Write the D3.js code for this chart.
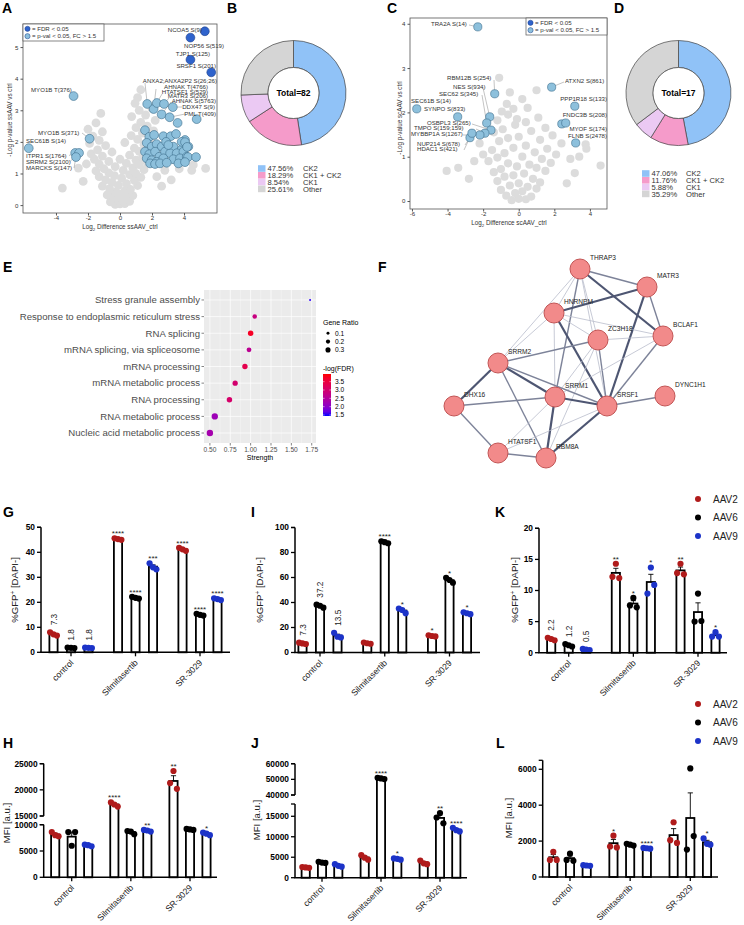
<!DOCTYPE html>
<html><head><meta charset="utf-8">
<script src="https://cdn.jsdelivr.net/npm/d3@7"></script>
<style>body{margin:0;background:#fff}svg{display:block}text{font-family:Arial,"Liberation Sans",sans-serif}</style>
</head><body><svg id="c" width="744" height="925"></svg>
<script>
// ================= DATA =================
// Panel A volcano (ssAAV vs ctrl): [log2 diff, -log p]
const aGrey=[[-0.3,0.02],[0,0.04],[0.3,0.05],[-0.6,0.1],[0.6,0.12],[-0.1,0.15],[0.15,0.2],[0.45,0.25],[-0.45,0.28],[0.8,0.3],[-0.8,0.32],[0.05,0.35],[-0.25,0.42],[0.3,0.45],[0.65,0.5],[-0.65,0.52],
[-1.1,0.6],[1.1,0.62],[-0.1,0.62],[0.4,0.68],[-0.5,0.72],[0.9,0.78],[-0.9,0.8],[0.1,0.85],[1.3,0.88],[-1.3,0.9],[-0.35,0.93],[0.6,0.96],[1.0,1.0],[-0.7,1.02],
[-1.5,1.08],[0.2,1.1],[1.5,1.12],[-1.0,1.15],[0.8,1.18],[-0.3,1.22],[1.2,1.28],[-1.3,1.3],[0.4,1.32],[1.7,1.35],[-0.7,1.38],[1.0,1.42],[-1.6,1.45],[0.0,1.45],[1.4,1.5],
[-1.1,1.55],[0.6,1.58],[-1.8,1.62],[1.8,1.65],[-0.5,1.68],[1.2,1.7],[-1.4,1.75],[0.9,1.8],[2.0,1.82],[-0.9,1.88],[1.5,1.92],[-1.9,1.95],[0.3,1.98],
[-1.3,2.05],[1.1,2.08],[1.9,2.1],[-1.7,2.18],[0.7,2.2],[1.4,2.28],[-1.1,2.32],[2.1,2.35],[-2.0,2.4],[1.0,2.45],[1.7,2.5],
[-1.5,2.6],[1.3,2.62],[2.2,2.68],[0.73,2.8],[1.6,2.85],[-1.2,2.9],[1.2,3.0],[2.0,3.05],[0.94,3.22],[1.1,3.4],[1.3,3.65],
[-3.6,0.54],[-2.6,1.17],[-2.3,0.75],[-2.1,1.3],[2.3,0.9],[2.8,1.1],[3.2,0.8],[4.58,1.27],[4.48,1.1],[5.35,1.16],[3.7,1.15],[2.6,0.6]];
const aSig=[[-2.9,3.45],[-1.9,2.1],[-5.7,1.8],[-2.8,1.65],[-2.56,1.65],[-2.75,1.52],
[1.7,3.2],[2.1,3.04],[2.3,3.23],[2.75,3.2],[2.6,2.87],[3.3,3.1],[3.1,2.78],[3.6,2.6],[4.79,2.72],
[1.56,2.37],[1.83,2.16],[2.13,2.22],[2.71,2.18],[3.17,2.18],[3.5,2.25],[4.06,2.06],[1.67,1.97],[1.98,1.85],[2.29,1.93],[2.6,1.85],[2.88,2.0],[3.33,1.85],[3.85,1.76],[4.27,1.85],[1.56,1.69],[1.83,1.61],[2.19,1.69],[2.46,1.53],[2.81,1.69],[3.13,1.64],[3.54,1.64],[3.96,1.69],[1.67,1.48],[1.98,1.42],[2.29,1.37],[2.71,1.48],[3.33,1.45],[3.75,1.48],[1.88,1.32],[2.19,1.3],[2.5,1.32],[2.92,1.34],[3.65,1.32],[4.17,1.53],[3.85,2.0],[3.02,1.9],[4.06,1.99],[4.19,1.84],[4.25,1.52],[4.75,1.52],[4.06,1.36]];
const aFdr=[[5.3,5.5],[4.4,5.3],[4.4,4.6],[5.7,4.2]];
const aLabelText=["NCOA5 S(9)","NOP56 S(519)","TJP1 S(125)","SRSF1 S(201)","ANXA2;ANXA2P2 S(26;26)","AHNAK T(4766)","HTATSF1 S(529)","MATR3 S(206)","AHNAK S(5763)","DDX47 S(9)","PML T(409)","MYO1B T(376)","MYO1B S(371)","SEC61B S(14)","ITPR1 S(1764)","SRRM2 S(2100)","MARCKS S(147)"];
const aLabelPoint=[aFdr[0],aFdr[1],aFdr[2],aFdr[3],aSig[6],aSig[7],aSig[8],aSig[9],aSig[10],aSig[11],aSig[12],aSig[0],aSig[1],aSig[2],aSig[3],aSig[4],aSig[5]];

// Panel C volcano (scAAV vs ctrl)
const cGrey=[[-0.4,0.02],[0,0.05],[0.4,0.04],[-0.7,0.12],[0.7,0.1],[-0.2,0.18],[0.2,0.22],[-1.0,0.25],[1.0,0.28],[0.5,0.32],[-0.5,0.35],[0,0.4],[-1.2,0.45],[1.2,0.42],[0.8,0.5],[-0.8,0.55],[-0.3,0.58],[0.3,0.62],
[-1.4,0.65],[1.5,0.68],[-1.0,0.72],[1.0,0.75],[-0.1,0.78],[0.6,0.82],[-0.6,0.85],[1.8,0.86],[-1.7,0.9],[1.3,0.95],[-1.2,0.98],[0.2,1.0],
[-2.0,1.05],[2.1,1.05],[-0.8,1.08],[0.9,1.1],[-1.5,1.15],[1.6,1.18],[-0.3,1.2],[0.4,1.25],[-2.2,1.3],[2.4,1.3],[-1.1,1.35],[1.2,1.38],[-0.6,1.42],[0.0,1.45],[1.9,1.48],
[-1.4,1.55],[0.7,1.58],[-0.9,1.62],[1.5,1.65],[-0.2,1.72],[0.4,1.78],[-1.2,1.82],[-0.1,1.85],[1.1,1.88],[-0.6,1.95],
[-0.95,2.02],[-0.3,2.08],[0.5,2.1],[-0.67,2.19],[0.2,2.3],[1.0,2.5],[-1.1,2.78],[-0.5,2.45],
[-4.05,0.68],[-3.4,0.75],[-2.8,0.5],[3.76,1.28],[3.8,1.18],[4.6,0.8],[3.15,0.63],[2.9,0.95],[3.4,1.0],[2.7,0.4],[-2.5,0.9]];
const cSig=[[-2.3,3.93],[-1.35,2.42],[-1.63,1.9],[-1.8,1.76],[-5.73,2.08],[-3.43,1.9],[-1.56,1.6],[-1.9,1.53],[-2.18,1.49],[-2.74,1.43],[-2.63,1.53],[1.85,2.57],[3.15,2.14],[2.42,1.74],[2.64,1.76],[3.2,1.31]];
const cFdr=[];
const cLabelText=["TRA2A S(14)","RBM12B S(254)","NES S(934)","SEC62 S(345)","SEC61B S(14)","SYNPO S(833)","OSBPL3 S(265)","TMPO S(159;159)","MYBBP1A S(1267)","NUP214 S(678)","HDAC1 S(421)","ATXN2 S(861)","PPP1R18 S(133)","FNDC3B S(208)","MYOF S(174)","FLNB S(2478)"];
const cLabelPoint=cSig.slice(0,16);

// Panels B, D donuts
const kinaseCats=["CK2","CK1 + CK2","CK1","Other"];
const kinaseColors=["#90c2f7","#f59bca","#ebc9f3","#d5d5d5"];
const bShares=[47.56,18.29,8.54,25.61];
const dShares=[47.06,11.76,5.88,35.29];
const bTotal=82, dTotal=17;

// Panel E GO enrichment
const goTerms=["Stress granule assembly","Response to endoplasmic reticulum stress","RNA splicing","mRNA splicing, via spliceosome","mRNA processing","mRNA metabolic process","RNA processing","RNA metabolic process","Nucleic acid metabolic process"];
const goStrength=[1.73,1.05,1.0,0.98,0.93,0.81,0.74,0.56,0.5];
const goRatio=[0.03,0.15,0.22,0.17,0.21,0.2,0.22,0.29,0.3];
const goLogFdr=[1.5,2.8,3.75,2.6,3.35,3.0,3.05,2.2,2.3];
const strengthTicks=[0.5,0.75,1.0,1.25,1.5,1.75];
const ratioLegend=[0.1,0.2,0.3];
const fdrLegend=[3.5,3.0,2.5,2.0,1.5];

// Panel F network (layout units)
const netNodes=["THRAP3","MATR3","HNRNPM","ZC3H18","BCLAF1","SRRM2","SRRM1","SRSF1","DYNC1H1","DHX16","HTATSF1","RBM8A"];
const netLayout=[[210,19],[277,37],[184,63],[228,90],[293,86],[128,113],[185,147],[237,156],[295,146],[84,156],[128,203],[176,208]];
const netEdges=[["THRAP3","MATR3",2],["THRAP3","HNRNPM",1],["THRAP3","SRRM2",1],["THRAP3","SRRM1",2],["THRAP3","ZC3H18",1],["THRAP3","BCLAF1",3],["THRAP3","SRSF1",1],
["MATR3","HNRNPM",3],["MATR3","BCLAF1",2],["MATR3","SRSF1",3],["HNRNPM","ZC3H18",1],["HNRNPM","BCLAF1",1],["HNRNPM","SRRM2",1],["HNRNPM","SRRM1",1],["HNRNPM","SRSF1",3],
["ZC3H18","BCLAF1",1],["ZC3H18","SRRM2",2],["ZC3H18","SRRM1",1],["ZC3H18","SRSF1",2],["ZC3H18","RBM8A",1],["BCLAF1","SRSF1",2],["BCLAF1","SRRM1",1],
["SRRM2","SRRM1",3],["SRRM2","SRSF1",2],["SRRM2","DHX16",3],["SRRM2","RBM8A",2],["SRRM1","DHX16",2],["SRRM1","SRSF1",3],["SRRM1","RBM8A",3],["SRRM1","HTATSF1",1],
["SRSF1","DYNC1H1",2],["SRSF1","RBM8A",3],["SRSF1","HTATSF1",1],["DHX16","HTATSF1",2],["HTATSF1","RBM8A",2]];

// Bar panels G-L: replicates [treatment][serotype][rep]
const barCats=["control","Silmitasertib","SR-3029"];
const serotypes=["AAV2","AAV6","AAV9"];
const serColors=["#b01b1b","#000000","#1c33c8"];
const gReps=[[[8.0,7.2,6.7],[1.9,1.8,1.7],[1.9,1.8,1.7]],[[45.6,45.3,45.0],[22.2,21.8,21.5],[35.6,34.0,33.2]],[[41.8,41.2,40.6],[15.4,15.0,14.7],[21.6,21.3,20.9]]];
const gAnnot=["7.3","1.8","1.8","****","****","***","****","****","****"];
const iReps=[[[7.9,7.3,6.8],[38.3,37.4,35.9],[15.8,12.6,12.1]],[[8.0,7.4,7.0],[89.0,88.3,87.4],[35.2,34.0,31.5]],[[13.8,13.2,12.9],[59.8,58.0,55.8],[32.2,31.4,30.7]]];
const iAnnot=["7.3","37.2","13.5","","****","*","*","*","*"];
const kReps=[[[2.4,2.2,2.0],[1.4,1.2,1.0],[0.6,0.5,0.4]],[[12.2,14.3,12.0],[7.6,8.8,7.3],[9.5,13.7,10.9]],[[12.8,14.3,12.6],[5.0,9.5,5.1],[2.6,3.3,2.6]]];
const kAnnot=["2.2","1.2","0.5","**","*","*","**","","*"];
const hReps=[[[8600,8000,7800],[8600,6000,8600],[6200,6100,5900]],[[17600,17200,16800],[8800,8700,8200],[9000,8900,8700]],[[21300,23600,20200],[9200,9100,9000],[8500,8300,8000]]];
const hAnnot=["","","","****","","**","**","","*"];
const jReps=[[[2600,2500,2400],[3900,3700,3600],[3300,2900,2700]],[[5500,4900,4400],[51000,50600,50200],[4700,4600,4400]],[[4200,3500,3300],[14700,15800,13300],[12200,11600,11300]]];
const jAnnot=["","","","","****","*","","**","****"];
const lReps=[[[950,1400,950],[950,1300,900],[660,640,620]],[[1700,2300,1650],[1850,1800,1750],[1620,1600,1580]],[[2050,3050,1900],[1530,6050,2280],[2150,1850,1800]]];
const lAnnot=["","","","*","","****","","","*"];

// ================= DRAWING =================
const svg=d3.select("#c");
svg.append("rect").attr("width",744).attr("height",925).attr("fill","#fff");

[["A",2,13],["B",227,13],["C",387,13],["D",614,13],["E",3,272],["F",378,272],["G",3,517],["I",251,517],["K",495,517],["H",3,748],["J",251,748],["L",496,748]]
.forEach(([t,x,y])=>svg.append("text").attr("x",x).attr("y",y).attr("font-size",14).attr("font-weight","bold").text(t));

function volcano(o){
  const g=svg.append("g");
  const [x0,y0,x1,y1]=o.box;
  const x=d3.scaleLinear().domain(o.xd).range([x0,x1]);
  const y=d3.scaleLinear().domain(o.yd).range([y1,y0]);
  g.append("g").selectAll("circle").data(o.grey).join("circle")
    .attr("cx",d=>x(d[0])).attr("cy",d=>y(d[1])).attr("r",o.r).attr("fill","#dcdcdc");
  o.labelText.forEach((t,i)=>{
    const L=o.place[i], p=o.labelPoint[i];
    if(L[3]) g.append("line").attr("x1",L[3][0]).attr("y1",L[3][1]).attr("x2",x(p[0])).attr("y2",y(p[1])).attr("stroke","#888").attr("stroke-width",0.5);
  });
  g.append("g").selectAll("circle").data(o.sig).join("circle")
    .attr("cx",d=>x(d[0])).attr("cy",d=>y(d[1])).attr("r",o.r).attr("fill","#8dc0dc").attr("stroke","#3d6d8c").attr("stroke-width",0.6);
  g.append("g").selectAll("circle").data(o.fdr).join("circle")
    .attr("cx",d=>x(d[0])).attr("cy",d=>y(d[1])).attr("r",o.r).attr("fill","#2f63cc").attr("stroke","#1d3f8a").attr("stroke-width",0.6);
  o.labelText.forEach((t,i)=>{
    const L=o.place[i];
    g.append("text").attr("x",L[0]).attr("y",L[1]).attr("text-anchor",L[2]).attr("font-size",6.1).attr("fill","#333").text(t);
  });
  g.append("rect").attr("x",x0).attr("y",y0).attr("width",x1-x0).attr("height",y1-y0).attr("fill","none").attr("stroke","#555").attr("stroke-width",0.8);
  const ya=g.append("g").attr("transform",`translate(${x0},0)`).call(d3.axisLeft(y).tickValues(o.yt).tickSize(2.5).tickPadding(2).tickFormat(d=>String(d)));
  const xa=g.append("g").attr("transform",`translate(0,${y1})`).call(d3.axisBottom(x).tickValues(o.xt).tickSize(2.5).tickPadding(0.5).tickFormat(d=>String(d)));
  [ya,xa].forEach(a=>{a.select(".domain").remove();a.selectAll("text").attr("font-size",6.1).attr("fill","#333").attr("font-family",null);a.selectAll("line").attr("stroke","#555");});
  const lg=o.legend;
  g.append("rect").attr("x",lg[0]).attr("y",lg[1]).attr("width",lg[2]).attr("height",17).attr("fill","#fff").attr("stroke","#555").attr("stroke-width",0.7);
  [["#2f63cc","= FDR < 0.05"],["#8dc0dc","= p-val < 0.05, FC > 1.5"]].forEach((e,i)=>{
    g.append("circle").attr("cx",lg[0]+4.5).attr("cy",lg[1]+4.8+i*7.4).attr("r",2.6).attr("fill",e[0]).attr("stroke","#1d3f8a").attr("stroke-width",0.5);
    g.append("text").attr("x",lg[0]+9).attr("y",lg[1]+7+i*7.4).attr("font-size",6.1).attr("fill","#333").text(e[1]);
  });
  const xt=g.append("text").attr("x",o.xTitle[0]).attr("y",o.xTitle[1]).attr("text-anchor","middle").attr("font-size",6.3).attr("fill","#333");
  xt.append("tspan").text("Log");xt.append("tspan").attr("font-size",4.4).attr("dy",1.5).text("2");xt.append("tspan").attr("dy",-1.5).text(" Difference "+o.xName);
  g.append("text").attr("transform",`translate(${o.yTitle[0]},${o.yTitle[1]}) rotate(-90)`).attr("text-anchor","middle").attr("dy","0.35em").attr("font-size",6.3).attr("fill","#333").text(o.yName);
}

volcano({box:[23,24,217,213],xd:[-6.06,6.06],yd:[-0.25,5.73],r:4.4,grey:aGrey,sig:aSig,fdr:aFdr,
  labelText:aLabelText,labelPoint:aLabelPoint,
  place:[[202,31.5,"end",[202,31]],[224,47.5,"end"],[210,55.5,"end"],[216,67.5,"end"],[217,82.5,"end",[145,83]],[208,88.5,"end",[156,89]],[208,93.5,"end",[162,94]],[208,98,"end",[169,98]],[216,102.5,"end",[171,102]],[215,109,"end",[182,107]],[216,115.5,"end",[185,114]],
    [31,91.5,"start"],[38,134.5,"start",[82,133]],[26,142.5,"start"],[26,157.5,"start",[69,155.5]],[26,163.5,"start",[70,161.5]],[26,170,"start",[74,168]]],
  yt:[0,1,2,3,4,5],xt:[-4,-2,0,2,4],legend:[23,24,81],xTitle:[120,229],xName:"ssAAV_ctrl",yTitle:[10,120],yName:"-Log p-value ssAAV vs ctrl"});

volcano({box:[410,18,607,209],xd:[-6.11,4.96],yd:[-0.18,4.13],r:4.1,grey:cGrey,sig:cSig,fdr:cFdr,
  labelText:cLabelText,labelPoint:cLabelPoint,
  place:[[431,26,"start",[469,25]],[447,80,"start",[494,80]],[453,89,"start",[483,88]],[439,96,"start",[482,95]],[411,103,"start"],[424,111,"start"],[427,125,"start",[472,124]],[414,130,"start",[476,129]],[411,136,"start",[463,135]],[417,146,"start",[465,145]],[417,151,"start",[464,150]],
    [565,83,"start",[564,82]],[607,101,"end"],[607,117,"end"],[607,131,"end"],[607,138,"end"]],
  yt:[0,1,2,3,4],xt:[-6,-4,-2,0,2,4],legend:[526,18,81],xTitle:[509,225],xName:"scAAV_ctrl",yTitle:[400,118],yName:"-Log p-value scAAV vs ctrl"});

function donut(cx,cy,shares,total,legX,legY,legStep,labX){
  const g=svg.append("g").attr("transform",`translate(${cx},${cy})`);
  const pie=d3.pie().sort(null).value(d=>d)(shares);
  const arc=d3.arc().innerRadius(25.5).outerRadius(52.5);
  g.selectAll("path").data(pie).join("path").attr("d",arc).attr("fill",(d,i)=>kinaseColors[i]).attr("stroke","#444").attr("stroke-width",0.7);
  g.append("circle").attr("r",25.5).attr("fill","#fff").attr("stroke","#444").attr("stroke-width",0.7);
  g.append("text").attr("text-anchor","middle").attr("dy","0.35em").attr("font-size",8.5).attr("font-weight","bold").text("Total="+total);
  shares.forEach((s,i)=>{
    const yy=legY+i*legStep;
    svg.append("rect").attr("x",legX).attr("y",yy-3.3).attr("width",7.5).attr("height",6.6).attr("fill",kinaseColors[i]);
    svg.append("text").attr("x",legX+9.5).attr("y",yy+2.7).attr("font-size",7.6).attr("fill","#333").text(s.toFixed(2)+"%");
    svg.append("text").attr("x",labX).attr("y",yy+2.7).attr("font-size",7.6).attr("fill","#333").text(kinaseCats[i]);
  });
}
donut(293.5,93,bShares,bTotal,258,168.5,6.8,303);
donut(678.5,93,dShares,dTotal,642,173.5,6.8,686);

// ---- Panel E
(function(){
  const g=svg.append("g");
  const px0=204,px1=316,py0=290,py1=443;
  const x=d3.scaleLinear().domain([0.4275,1.8025]).range([px0,px1]);
  const y=d3.scalePoint().domain(goTerms).range([py0,py1]).padding(0.6);
  const size=d3.scaleSqrt().domain([0,0.3]).range([0,3.2]);
  const col=d3.scaleLinear().domain([1.44,3.96]).range(["#0000ff","#ff0000"]).interpolate(d3.interpolateLab);
  g.append("rect").attr("x",px0).attr("y",py0).attr("width",px1-px0).attr("height",py1-py0).attr("fill","#ebebeb");
  d3.range(0.625,1.8,0.25).forEach(v=>g.append("line").attr("x1",x(v)).attr("x2",x(v)).attr("y1",py0).attr("y2",py1).attr("stroke","#fff").attr("stroke-width",0.3));
  strengthTicks.forEach(v=>g.append("line").attr("x1",x(v)).attr("x2",x(v)).attr("y1",py0).attr("y2",py1).attr("stroke","#fff").attr("stroke-width",0.7));
  goTerms.forEach(t=>g.append("line").attr("x1",px0).attr("x2",px1).attr("y1",y(t)).attr("y2",y(t)).attr("stroke","#fff").attr("stroke-width",0.7));
  g.selectAll("circle.p").data(goTerms).join("circle").attr("cx",(d,i)=>x(goStrength[i])).attr("cy",d=>y(d)).attr("r",(d,i)=>size(goRatio[i])).attr("fill",(d,i)=>col(goLogFdr[i]));
  goTerms.forEach(t=>{
    g.append("line").attr("x1",px0-2.5).attr("x2",px0).attr("y1",y(t)).attr("y2",y(t)).attr("stroke","#333").attr("stroke-width",0.6);
    g.append("text").attr("x",px0-4).attr("y",y(t)).attr("dy","0.35em").attr("text-anchor","end").attr("font-size",9.6).attr("fill","#4d4d4d").text(t);
  });
  strengthTicks.forEach(v=>{
    g.append("line").attr("x1",x(v)).attr("x2",x(v)).attr("y1",py1).attr("y2",py1+2.5).attr("stroke","#333").attr("stroke-width",0.6);
    g.append("text").attr("x",x(v)).attr("y",py1+8.6).attr("text-anchor","middle").attr("font-size",6.6).attr("fill","#4d4d4d").text(v.toFixed(2));
  });
  g.append("text").attr("x",(px0+px1)/2).attr("y",py1+16.5).attr("text-anchor","middle").attr("font-size",7).text("Strength");
  g.append("text").attr("x",323).attr("y",325).attr("font-size",7).text("Gene Ratio");
  ratioLegend.forEach((v,i)=>{
    g.append("circle").attr("cx",328).attr("cy",333.3+i*8.3).attr("r",size(v)*0.8).attr("fill","#000");
    g.append("text").attr("x",335).attr("y",333.3+i*8.3).attr("dy","0.35em").attr("font-size",6.6).text(v.toFixed(1));
  });
  g.append("text").attr("x",323).attr("y",370.5).attr("font-size",7).text("-log(FDR)");
  const defs=svg.append("defs");
  const lgd=defs.append("linearGradient").attr("id","fdrg").attr("x1",0).attr("x2",0).attr("y1",1).attr("y2",0);
  d3.range(0,1.001,0.1).forEach(t=>lgd.append("stop").attr("offset",t).attr("stop-color",col(1.44+t*(3.96-1.44))));
  const cb=d3.scaleLinear().domain([1.44,3.96]).range([416,374]);
  g.append("rect").attr("x",323).attr("y",374).attr("width",8).attr("height",42).attr("fill","url(#fdrg)");
  fdrLegend.forEach(v=>{
    g.append("line").attr("x1",323).attr("x2",324.6).attr("y1",cb(v)).attr("y2",cb(v)).attr("stroke","#fff").attr("stroke-width",0.5);
    g.append("line").attr("x1",329.4).attr("x2",331).attr("y1",cb(v)).attr("y2",cb(v)).attr("stroke","#fff").attr("stroke-width",0.5);
    g.append("text").attr("x",335).attr("y",cb(v)).attr("dy","0.35em").attr("font-size",6.6).text(v.toFixed(1));
  });
})();

// ---- Panel F network
(function(){
  const g=svg.append("g");
  const nx=d3.scaleLinear().domain([0,374]).range([370,744]);
  const ny=d3.scaleLinear().domain([0,250]).range([250,500]);
  const pos={};netNodes.forEach((n,i)=>pos[n]=[nx(netLayout[i][0]),ny(netLayout[i][1])]);
  const ec={1:"#b9bdcc",2:"#7d8399",3:"#4e5672"}, ew={1:0.8,2:1.4,3:2.2};
  netEdges.forEach(([a,b,w])=>g.append("line").attr("x1",pos[a][0]).attr("y1",pos[a][1]).attr("x2",pos[b][0]).attr("y2",pos[b][1]).attr("stroke",ec[w]).attr("stroke-width",ew[w]));
  netNodes.forEach(n=>{
    g.append("circle").attr("cx",pos[n][0]).attr("cy",pos[n][1]).attr("r",10).attr("fill","#f28a8a").attr("stroke","#c25555").attr("stroke-width",1);
    g.append("text").attr("x",pos[n][0]+10).attr("y",pos[n][1]-9).attr("font-size",6.6).attr("fill","#222").text(n);
  });
})();

// ---- Bar panels
function bars(o){
  const g=svg.append("g");
  const segs=o.segs.map(s=>Object.assign({sc:d3.scaleLinear().domain(s.d).range(s.r)},s));
  const yf=v=>{const lo=segs[0];if(segs.length===1||v<=lo.d[1])return lo.sc(v);const hi=segs[1];if(v>=hi.d[0])return hi.sc(v);
    return d3.scaleLinear().domain([lo.d[1],hi.d[0]]).range([lo.r[1],hi.r[0]])(v);};
  const gx=d3.scalePoint().domain(barCats).range(o.gx);
  const sx=d3.scalePoint().domain(serotypes).range([-o.step,o.step]);
  const items=[];
  barCats.forEach((c,i)=>serotypes.forEach((s,j)=>{const r=o.reps[i][j];const m=d3.mean(r);const se=d3.deviation(r)/Math.sqrt(r.length);
    items.push({r,m,se,j,a:o.annot[i*3+j],cx:gx(c)+sx(s)});}));
  items.forEach(d=>{
    g.append("rect").attr("x",d.cx-4.1).attr("width",8.2).attr("y",yf(d.m)).attr("height",o.yb-yf(d.m)).attr("fill","#fff").attr("stroke","#000").attr("stroke-width",1.8);
  });
  items.forEach(d=>{
    const t=yf(d.m+d.se);
    g.append("line").attr("x1",d.cx).attr("x2",d.cx).attr("y1",yf(d.m)).attr("y2",t).attr("stroke","#000").attr("stroke-width",0.9);
    g.append("line").attr("x1",d.cx-2.6).attr("x2",d.cx+2.6).attr("y1",t).attr("y2",t).attr("stroke","#000").attr("stroke-width",0.9);
  });
  items.forEach(d=>d.r.forEach((v,k)=>g.append("circle").attr("cx",d.cx+(k-1)*3.4).attr("cy",yf(v)).attr("r",3.1).attr("fill",serColors[d.j])));
  items.forEach(d=>{
    if(!d.a)return;
    const top=Math.min(yf(d3.max(d.r)),yf(d.m+d.se));
    if(/\d/.test(d.a)){
      g.append("text").attr("transform",`translate(${d.cx+3},${top-7}) rotate(-90)`).attr("font-size",8.2).attr("fill","#222").text(d.a);
    } else {
      g.append("text").attr("x",d.cx).attr("y",top-2).attr("text-anchor","middle").attr("font-size",8).attr("fill","#222").text(d.a);
    }
  });
  segs.forEach((s,si)=>{
    g.append("line").attr("x1",o.ax).attr("x2",o.ax).attr("y1",s.r[0]).attr("y2",s.r[1]).attr("stroke","#000").attr("stroke-width",1.5);
    g.append("line").attr("x1",o.ax-4).attr("x2",o.ax).attr("y1",s.r[1]).attr("y2",s.r[1]).attr("stroke","#000").attr("stroke-width",1.3);
    if(si>0)g.append("line").attr("x1",o.ax-4).attr("x2",o.ax).attr("y1",s.r[0]).attr("y2",s.r[0]).attr("stroke","#000").attr("stroke-width",1.3);
    s.ticks.forEach(v=>{
      g.append("line").attr("x1",o.ax-4).attr("x2",o.ax).attr("y1",s.sc(v)).attr("y2",s.sc(v)).attr("stroke","#000").attr("stroke-width",1.3);
      g.append("text").attr("x",o.ax-6).attr("y",s.sc(v)).attr("dy","0.35em").attr("text-anchor","end").attr("font-size",8.4).attr("font-weight","bold").text(v);
    });
  });
  g.append("line").attr("x1",o.ax-0.7).attr("x2",o.axR).attr("y1",o.yb).attr("y2",o.yb).attr("stroke","#000").attr("stroke-width",1.5);
  barCats.forEach(c=>{
    g.append("line").attr("x1",gx(c)).attr("x2",gx(c)).attr("y1",o.yb).attr("y2",o.yb+4).attr("stroke","#000").attr("stroke-width",1.3);
    g.append("text").attr("transform",`translate(${gx(c)+3},${o.yb+11}) rotate(-45)`).attr("text-anchor","end").attr("font-size",8.6).attr("fill","#222").text(c);
  });
  const yt=g.append("text").attr("transform",`translate(${o.yt[0]},${o.yt[1]}) rotate(-90)`).attr("text-anchor","middle").attr("dy","0.35em").attr("font-size",9.6).attr("fill","#222");
  if(o.gfp){yt.append("tspan").text("%GFP");yt.append("tspan").attr("font-size",6.5).attr("dy",-3.5).text("+");yt.append("tspan").attr("dy",3.5).text(" [DAPI-]");}
  else yt.text("MFI [a.u.]");
  if(o.legend){
    serotypes.forEach((s,i)=>{
      g.append("circle").attr("cx",o.legend[0]).attr("cy",o.legend[1]+i*18.5).attr("r",3).attr("fill",serColors[i]);
      g.append("text").attr("x",o.legend[0]+15).attr("y",o.legend[1]+i*18.5).attr("dy","0.35em").attr("font-size",10).attr("fill","#222").text(s);
    });
  }
}
bars({ax:41,axR:230,yb:652.3,gx:[71,200],step:17.5,segs:[{d:[0,50],r:[652.3,527.3],ticks:[0,10,20,30,40,50]}],reps:gReps,annot:gAnnot,yt:[15,590],gfp:true});
bars({ax:295,axR:480,yb:652.5,gx:[320,449.5],step:17.5,segs:[{d:[0,100],r:[652.5,527.5],ticks:[0,20,40,60,80,100]}],reps:iReps,annot:iAnnot,yt:[260,590],gfp:true});
bars({ax:539,axR:727,yb:652.7,gx:[568.7,698],step:17.5,segs:[{d:[0,20],r:[652.7,528.3],ticks:[0,5,10,15,20]}],reps:kReps,annot:kAnnot,yt:[515,590],gfp:true,legend:[698,499]});
bars({ax:43.7,axR:217,yb:877.3,gx:[71.7,190],step:16.5,segs:[{d:[0,10000],r:[877.3,824.7],ticks:[0,5000,10000]},{d:[15000,25000],r:[816,763.7],ticks:[15000,20000,25000]}],reps:hReps,annot:hAnnot,yt:[7,823]});
bars({ax:295,axR:467,yb:877.7,gx:[322,440],step:16.3,segs:[{d:[0,18000],r:[877.7,804],ticks:[0,5000,10000,15000]},{d:[40000,60000],r:[795,763.7],ticks:[40000,50000,60000]}],reps:jReps,annot:jAnnot,yt:[257,820]});
bars({ax:542.7,axR:718,yb:877,gx:[570,690.3],step:16.7,segs:[{d:[0,6500],r:[877,760.3],ticks:[0,2000,4000,6000]}],reps:lReps,annot:lAnnot,yt:[509,818],legend:[698,704]});
</script></body></html>
